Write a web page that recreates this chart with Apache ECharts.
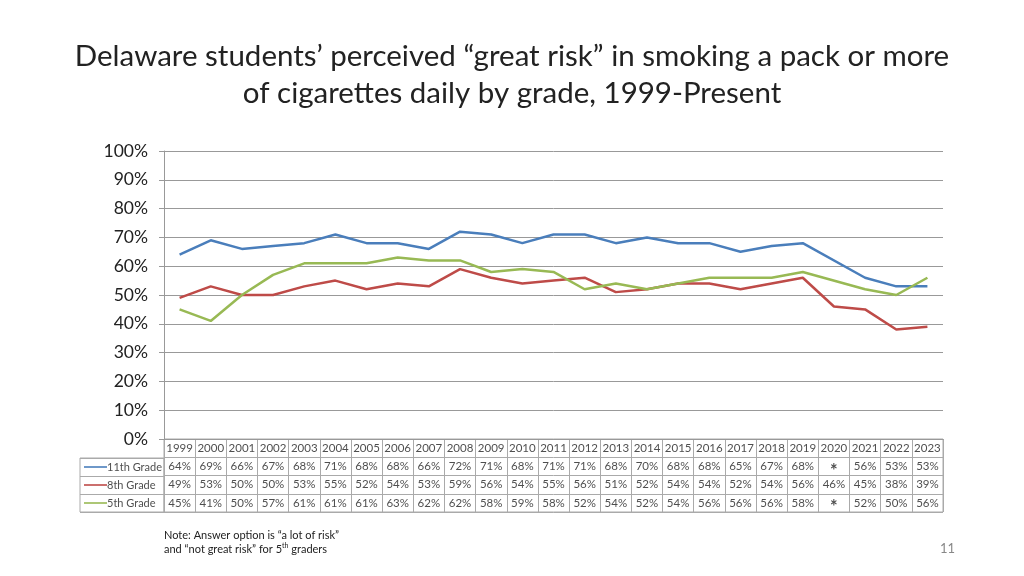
<!DOCTYPE html>
<html>
<head>
<meta charset="utf-8">
<script src="https://cdn.jsdelivr.net/npm/echarts@6/dist/echarts.min.js"></script>
<style>
  html, body { margin: 0; padding: 0; background: #fff; }
  #chart { width: 1024px; height: 576px; }
</style>
</head>
<body>
<div id="chart"></div>
<script>
const years = ['1999', '2000', '2001', '2002', '2003', '2004', '2005', '2006', '2007', '2008', '2009', '2010', '2011',
  '2012', '2013', '2014', '2015', '2016', '2017', '2018', '2019', '2020', '2021', '2022', '2023']
const grade11 = [64, 69, 66, 67, 68, 71, 68, 68, 66, 72, 71, 68, 71, 71, 68, 70, 68, 68, 65, 67, 68, null, 56, 53, 53]
const grade8 = [49, 53, 50, 50, 53, 55, 52, 54, 53, 59, 56, 54, 55, 56, 51, 52, 54, 54, 52, 54, 56, 46, 45, 38, 39]
const grade5 = [45, 41, 50, 57, 61, 61, 61, 63, 62, 62, 58, 59, 58, 52, 54, 52, 54, 56, 56, 56, 58, null, 52, 50, 56]
const seriesNames = ['11th Grade', '8th Grade', '5th Grade']
const colors = ['#4a7ebb', '#be4b48', '#98b954']
const yTicks = [0, 100, 10]

const font = 'Lato, "Open Sans", sans-serif'
const allSeries = [grade11, grade8, grade5]

// table cells: header row + one row per grade
const cells = []
years.forEach((y, i) => {
  cells.push({ value: [i, 0], text: y })
  allSeries.forEach((s, r) => {
    cells.push({ value: [i, r + 1], text: s[i] === null ? '{a|*}' : s[i] + '%' })
  })
})
const rowLabels = seriesNames.map((n, r) => ({ value: [0, r], name: n, idx: r }))

const chart = echarts.init(document.getElementById('chart'))
chart.setOption({
  animation: false,
  textStyle: { fontFamily: font },
  title: {
    text: 'Delaware students’ perceived “great risk” in smoking a pack or more\nof cigarettes daily by grade, 1999-Present',
    left: 'center',
    top: 33,
    textStyle: { fontSize: 29.5, fontWeight: 'normal', color: '#222', lineHeight: 37, fontFamily: font }
  },
  graphic: [
    {
      type: 'text', left: 164, top: 530,
      style: {
        text: '{t|Note: Answer option is “a lot of risk”}\n{t|and “not great risk” for 5}{s|th}{t| graders}',
        rich: {
          t: { fontSize: 11, fill: '#222', fontFamily: font, lineHeight: 14 },
          s: { fontSize: 7, fill: '#222', fontFamily: font, verticalAlign: 'top', lineHeight: 14 }
        }
      }
    },
    {
      type: 'text', right: 69, top: 542,
      style: { text: '11', fontSize: 13, fill: '#888', fontFamily: font }
    }
  ],
  grid: [
    { left: 164, right: 81, top: 151, height: 288 },
    { left: 164, right: 81, top: 439, height: 73, show: true, borderColor: '#aaa', borderWidth: 1 },
    { left: 80, width: 84, top: 458, height: 54, show: true, borderColor: '#aaa', borderWidth: 1 }
  ],
  xAxis: [
    {
      gridIndex: 0, type: 'category', data: years, boundaryGap: true,
      axisLine: { lineStyle: { color: '#999' } }, axisTick: { show: false }, axisLabel: { show: false }
    },
    {
      gridIndex: 1, type: 'category', data: years, boundaryGap: true,
      axisLine: { show: false }, axisTick: { show: false }, axisLabel: { show: false },
      splitLine: { show: true, interval: 0, lineStyle: { color: '#aaa' } }
    },
    {
      gridIndex: 2, type: 'value', min: 0, max: 1, show: false
    }
  ],
  yAxis: [
    {
      gridIndex: 0, type: 'value', min: yTicks[0], max: yTicks[1], interval: yTicks[2],
      axisLine: { show: true, lineStyle: { color: '#999' } },
      axisTick: { show: true, length: 5, lineStyle: { color: '#999' } },
      axisLabel: { formatter: '{value}%', fontSize: 17.5, color: '#222', margin: 16, fontFamily: font },
      splitLine: { lineStyle: { color: '#999' } }
    },
    {
      gridIndex: 1, type: 'category', data: ['year'].concat(seriesNames), inverse: true,
      axisLine: { show: false }, axisTick: { show: false }, axisLabel: { show: false },
      splitLine: { show: true, interval: 0, lineStyle: { color: '#aaa' } }
    },
    {
      gridIndex: 2, type: 'category', data: seriesNames, inverse: true,
      axisLine: { show: false }, axisTick: { show: false }, axisLabel: { show: false },
      splitLine: { show: true, interval: 0, lineStyle: { color: '#aaa' } }
    }
  ],
  series: allSeries.map((s, r) => ({
    type: 'line', name: seriesNames[r], data: s, xAxisIndex: 0, yAxisIndex: 0,
    connectNulls: true, showSymbol: false, symbol: 'none',
    lineStyle: { color: colors[r], width: 2.5 }, itemStyle: { color: colors[r] }
  })).concat([
    {
      type: 'scatter', xAxisIndex: 1, yAxisIndex: 1, symbolSize: 0, data: cells,
      label: {
        show: true, position: 'inside', fontSize: 11.5, color: '#222', fontFamily: font,
        formatter: p => p.data.text,
        rich: { a: { fontSize: 18, fontWeight: 'bold', color: '#222', padding: [9, 0, 0, 0] } }
      }
    },
    {
      type: 'scatter', xAxisIndex: 2, yAxisIndex: 2, symbolSize: 0, data: rowLabels,
      label: {
        show: true, position: 'right', distance: 4, fontFamily: font,
        formatter: p => '{l' + p.data.idx + '|}{t|' + p.data.name + '}',
        rich: {
          l0: { width: 23, height: 2, backgroundColor: colors[0] },
          l1: { width: 23, height: 2, backgroundColor: colors[1] },
          l2: { width: 23, height: 2, backgroundColor: colors[2] },
          t: { fontSize: 11, color: '#222', fontFamily: font }
        }
      }
    }
  ])
})
</script>
</body>
</html>
